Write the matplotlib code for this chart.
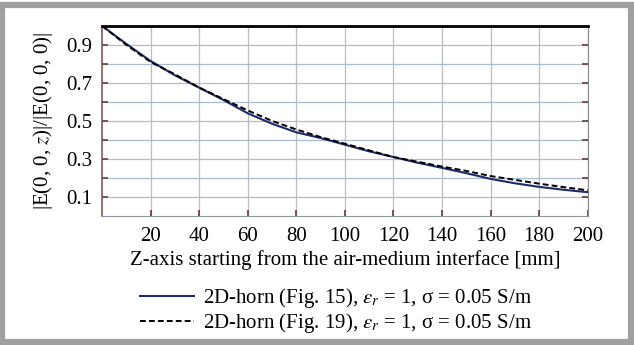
import numpy as np
import matplotlib.pyplot as plt
from matplotlib.patches import Rectangle

# distance from the interface [mm]
z_mm = [0, 10, 20, 30, 40, 50, 60, 70, 80, 90, 100,
        110, 120, 130, 140, 150, 160, 170, 180, 190, 200]

# normalised field, 2D-horn (Fig. 15)
e_fig15 = [1.0, 0.905, 0.815, 0.74, 0.675, 0.61, 0.54, 0.485, 0.44, 0.41, 0.375,
           0.34, 0.31, 0.28, 0.253, 0.225, 0.195, 0.172, 0.153, 0.138, 0.125]

# normalised field, 2D-horn (Fig. 19)
e_fig19 = [1.0, 0.9, 0.81, 0.745, 0.675, 0.615, 0.555, 0.5, 0.455, 0.415, 0.38,
           0.345, 0.31, 0.285, 0.26, 0.237, 0.21, 0.19, 0.17, 0.152, 0.135]

xticks = [20, 40, 60, 80, 100, 120, 140, 160, 180, 200]
yticks = [0.1, 0.3, 0.5, 0.7, 0.9]
yminor = [0.2, 0.4, 0.6, 0.8]

plt.rcParams['font.family'] = ['Liberation Serif', 'DejaVu Serif']
plt.rcParams['mathtext.fontset'] = 'stix'

fig = plt.figure(figsize=(6.34, 3.45), dpi=100)
ax = fig.add_axes([0.161, 0.374, 0.766, 0.551])

# grid
for x in xticks:
    ax.axvline(x, color='#b8bec4', lw=0.9, zorder=0)
for y in yticks:
    ax.axhline(y, color='#c9b4b8', lw=0.9, zorder=0)
for y in yminor:
    ax.axhline(y, color='#a9bccb', lw=0.9, zorder=0)

l1, = ax.plot(z_mm, e_fig15, color='#1c2a6e', lw=1.5, zorder=3)
l2, = ax.plot(z_mm, e_fig19, color='black', lw=1.4, ls=(0, (3, 1.6)), zorder=4)

ax.set_xlim(0, 200)
ax.set_ylim(0, 1.0)
ax.set_xticks(xticks)
ax.set_yticks(yticks)
ax.set_yticks(yminor, minor=True)
ax.tick_params(axis='both', which='both', direction='in', colors='#6a3a3a',
               labelcolor='black', labelsize=15, right=True, length=4, width=1.2)
ax.tick_params(axis='x', pad=8)
ax.tick_params(axis='y', pad=7)

ax.spines['top'].set_color('black')
ax.spines['top'].set_linewidth(2.0)
ax.spines['left'].set_color('#7a4a4a')
ax.spines['left'].set_linewidth(1.1)
ax.spines['right'].set_color('#888888')
ax.spines['bottom'].set_color('#8a96a4')

ax.set_xlabel('Z-axis starting from the air-medium interface [mm]', fontsize=15, labelpad=3)
ax.set_ylabel(r'|E(0, 0, $z$)|/|E(0, 0, 0)|', fontsize=15, labelpad=8)

fig.legend([l1, l2],
           [r'2D-horn (Fig. 15), $\varepsilon_r$ = 1, σ = 0.05 S/m',
            r'2D-horn (Fig. 19), $\varepsilon_r$ = 1, σ = 0.05 S/m'],
           loc='center', bbox_to_anchor=(0.53, 0.1), frameon=False,
           fontsize=15, handlelength=2.6, handletextpad=0.45, labelspacing=0.05)

# grey frame around the whole picture
fig.patches.append(Rectangle((0.003, 0.008), 0.992, 0.978, transform=fig.transFigure,
                             fill=False, edgecolor='#a0a0a0', lw=4.5))

fig.savefig('out.png', dpi=100)
